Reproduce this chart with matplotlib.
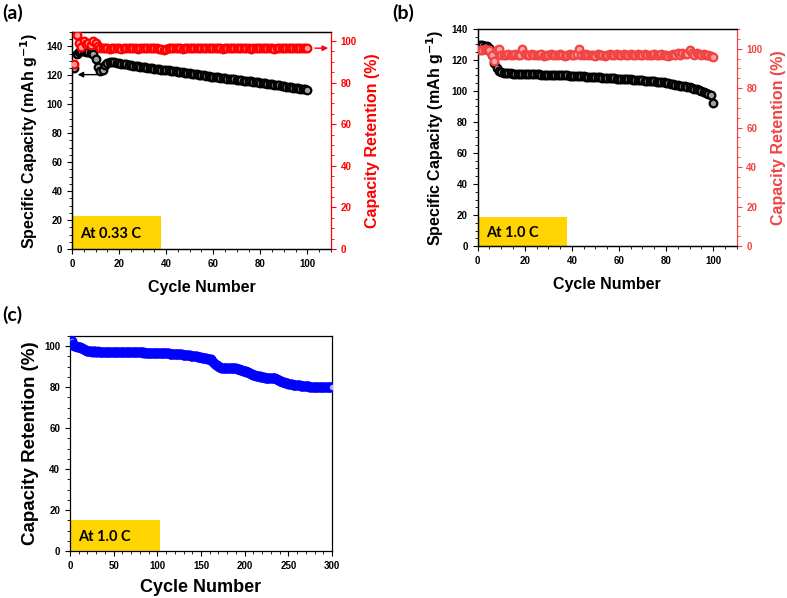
import numpy as np
import matplotlib
matplotlib.use('Agg')
import matplotlib.pyplot as plt
from matplotlib.patches import Rectangle

plt.rcParams['font.family'] = 'Liberation Sans'
plt.rcParams['font.weight'] = 'bold'
plt.rcParams['axes.labelweight'] = 'bold'

# ---------------- datos ----------------
# (a) 0.33 C
cap_a = [125, 135, 136, 136.5, 136.5, 136, 136, 135.5, 134.5, 131.5,
         126, 123, 124, 127, 128.5, 129, 129, 129, 128.5, 128.2,
         128, 127.7, 127.5, 127.3, 127, 126.8, 126.6, 126.3, 126.1, 125.9,
         125.6, 125.4, 125.2, 125, 124.7, 124.5, 124.3, 124, 123.8, 123.6,
         123.4, 123.2, 122.9, 122.7, 122.5, 122.2, 122, 121.8, 121.5, 121.3,
         121.1, 120.8, 120.6, 120.4, 120.1, 119.9, 119.7, 119.4, 119.2, 119,
         118.8, 118.6, 118.4, 118.2, 118.0, 117.8, 117.6, 117.4, 117.2, 117.0,
         116.8, 116.6, 116.4, 116.2, 116.0, 115.8, 115.6, 115.4, 115.2, 115.0,
         114.7, 114.5, 114.2, 114.0, 113.7, 113.5, 113.2, 113.0, 112.7, 112.5,
         112.2, 112.0, 111.7, 111.5, 111.2, 111.0, 110.8, 110.5, 110.3, 110.1]
ret_a = [89, 103, 99, 97, 100, 98.5, 99, 98, 100, 99, 97.5, 96.8,
         96.4, 96.6, 96.5, 96.3, 96.6, 96.5, 96.7, 96.4,
         96.2, 96.5, 96.6, 96.4, 96.5, 96.7, 96.5, 96.3, 96.6, 96.5,
         96.4, 96.6, 96.5, 96.5, 96.7, 96.4, 96.3, 96.0, 95.8, 96.3,
         96.5, 96.6, 96.4, 96.5, 96.6, 96.5, 96.3, 96.6, 96.5, 96.4,
         96.5, 96.6, 96.4, 96.5, 96.7, 96.5, 96.4, 96.6, 96.5, 96.5,
         96.4, 96.6, 96.5, 96.3, 96.5, 96.6, 96.5, 96.4, 96.6, 96.5,
         96.5, 96.4, 96.6, 96.5, 96.5, 96.3, 96.6, 96.5, 96.4, 96.6,
         96.5, 96.5, 96.4, 96.6, 96.5, 96.3, 96.5, 96.6, 96.5, 96.4,
         96.6, 96.5, 96.5, 96.4, 96.6, 96.5, 96.5, 96.4, 96.6, 96.5]

# (b) 1.0 C
cap_b = [129.5, 129.5, 129.3, 129, 127.5, 123, 118, 115, 113, 112,
         111.5, 111.4, 111.3, 111.3, 111.2, 111.2, 111.1, 111.1, 111, 111,
         110.9, 110.9, 110.8, 110.8, 110.7, 110.7, 110.6, 110.6, 110.5, 110.5,
         110.4, 110.4, 110.3, 110.3, 110.2, 110.1, 110.1, 110, 109.9, 109.8,
         109.7, 109.6, 109.5, 109.4, 109.4, 109.3, 109.2, 109.1, 109, 108.9,
         108.8, 108.7, 108.6, 108.5, 108.4, 108.3, 108.2, 108.1, 108, 107.9,
         107.8, 107.7, 107.6, 107.5, 107.4, 107.3, 107.2, 107.1, 106.9, 106.8,
         106.7, 106.6, 106.4, 106.3, 106.2, 106, 105.9, 105.7, 105.5, 105.3,
         105, 104.7, 104.4, 104.1, 103.8, 103.5, 103.2, 102.9, 102.6, 102.3,
         101.9, 101.5, 101, 100.5, 100, 99.5, 98.9, 98.3, 97.6, 92.5]
ret_b = [99.5, 99.5, 99.6, 99.4, 99.5, 97, 94, 99.5, 99.8, 97,
         97.0, 96.8, 97.1, 96.9, 97.0, 97.2, 96.8, 97.0, 100.0, 97.1,
         96.9, 97.0, 97.1, 96.7, 97.0, 96.9, 97.1, 96.3, 97.0, 96.9,
         97.1, 97.0, 96.8, 97.0, 97.1, 96.9, 96.4, 97.0, 97.1, 96.9,
         97.0, 97.2, 100.0, 97.0, 96.9, 97.1, 97.0, 96.8, 97.0, 96.3,
         97.1, 97.0, 96.9, 96.2, 97.0, 97.1, 96.9, 97.0, 97.1, 96.8,
         97.0, 97.1, 96.9, 97.0, 97.2, 96.9, 97.0, 97.1, 96.8, 97.0,
         97.1, 96.9, 97.0, 97.0, 97.1, 96.8, 97.0, 97.1, 96.9, 97.0,
         96.2, 97.0, 97.3, 96.8, 97.6, 97.0, 98.0, 97.2, 97.5, 99.5,
         97.6, 96.8, 97.8, 97.2, 96.6, 97.5, 96.8, 97.0, 96.4, 96.0]

# (c) 1.0 C, 300 ciclos
ret_c = [103.0, 102.4, 101.0, 100.5, 100.2, 100.0, 99.9, 99.8, 99.7, 99.6,
         99.5, 99.4, 99.2, 99.0, 98.8, 98.6, 98.3, 98.0, 97.8, 97.6,
         97.5, 97.5, 97.5, 97.5, 97.4, 97.5, 97.5, 97.4, 97.5, 97.4,
         97.4, 97.5, 97.4, 97.4, 97.4, 97.4, 97.3, 97.4, 97.4, 97.4,
         97.4, 97.3, 97.4, 97.3, 97.3, 97.4, 97.3, 97.3, 97.3, 97.3,
         97.3, 97.3, 97.3, 97.2, 97.3, 97.3, 97.2, 97.3, 97.2, 97.2,
         97.2, 97.2, 97.2, 97.2, 97.1, 97.2, 97.2, 97.1, 97.2, 97.1,
         97.1, 97.1, 97.1, 97.1, 97.1, 97.0, 97.1, 97.0, 97.0, 97.0,
         97.0, 97.0, 97.0, 96.9, 97.0, 96.9, 96.9, 96.9, 96.9, 96.9,
         96.9, 96.8, 96.9, 96.8, 96.8, 96.8, 96.8, 96.8, 96.7, 96.7,
         96.7, 96.7, 96.7, 96.6, 96.6, 96.6, 96.6, 96.5, 96.5, 96.5,
         96.5, 96.5, 96.5, 96.4, 96.4, 96.4, 96.4, 96.3, 96.3, 96.3,
         96.2, 96.2, 96.2, 96.1, 96.1, 96.1, 96.0, 96.0, 95.9, 95.9,
         95.8, 95.8, 95.7, 95.7, 95.6, 95.6, 95.5, 95.4, 95.4, 95.3,
         95.2, 95.2, 95.1, 95.0, 95.0, 94.9, 94.8, 94.8, 94.7, 94.6,
         94.5, 94.4, 94.4, 94.3, 94.2, 94.1, 94.0, 94.0, 93.9, 93.8,
         93.6, 93.4, 92.8, 92.3, 91.8, 91.4, 91.0, 90.8, 90.5, 90.2,
         89.9, 89.8, 89.6, 89.5, 89.4, 89.4, 89.4, 89.4, 89.4, 89.4,
         89.4, 89.4, 89.4, 89.4, 89.4, 89.3, 89.3, 89.3, 89.2, 89.2,
         89.1, 89.0, 88.9, 88.7, 88.5, 88.3, 88.2, 88.0, 87.9, 87.8,
         87.7, 87.6, 87.4, 87.2, 87.0, 86.8, 86.6, 86.4, 86.2, 86.0,
         85.9, 85.8, 85.7, 85.6, 85.5, 85.4, 85.3, 85.2, 85.1, 85.0,
         84.9, 84.8, 84.7, 84.7, 84.7, 84.6, 84.6, 84.6, 84.6, 84.6,
         84.6, 84.5, 84.5, 84.4, 84.3, 84.1, 83.9, 83.6, 83.4, 83.2,
         83.0, 82.8, 82.7, 82.5, 82.4, 82.2, 82.1, 82.0, 81.9, 81.8,
         81.7, 81.6, 81.5, 81.4, 81.3, 81.2, 81.2, 81.1, 81.1, 81.0,
         81.0, 80.9, 80.9, 80.8, 80.8, 80.7, 80.7, 80.6, 80.6, 80.5,
         80.5, 80.4, 80.4, 80.3, 80.3, 80.2, 80.2, 80.1, 80.1, 80.0,
         80.0, 80.0, 79.9, 79.9, 79.9, 79.9, 79.9, 79.9, 79.9, 79.9,
         79.9, 79.9, 79.9, 80.0, 80.0, 80.0, 80.0, 80.0, 80.1, 80.2]

cyc_ab = np.arange(1, len(cap_a) + 1)
cyc_c = np.arange(1, len(ret_c) + 1)

rate_labels = ['At 0.33 C', 'At 1.0 C', 'At 1.0 C']
YELLOW = '#FFD400'
RED_A = '#FF0000'
RED_B = '#F04444'
BLUE = '#0000FF'
TICK_FS = 7
LABEL_FS = 11.5


def estilo(ax):
    ax.tick_params(direction='out', labelsize=TICK_FS, width=0.8, length=3.5)
    ax.tick_params(which='minor', direction='out', width=0.6, length=2)
    ax.minorticks_on()
    for s in ax.spines.values():
        s.set_linewidth(0.9)


def caja(ax, x1, y1, texto):
    ax.add_patch(Rectangle((0, 0), x1, y1, facecolor=YELLOW, edgecolor='none', zorder=1))
    ax.text(x1 * 0.09, y1 * 0.45, texto, fontsize=10.5, fontweight='bold',
            family='Lato', va='center', ha='left', zorder=2)


def panel_doble(rect, cap, ret, red, ylim_l, ylim_r, yticks_l, texto, ybox):
    ax = fig.add_axes(rect)
    ax.plot(cyc_ab, cap, 'o', ms=5.5, mfc='#a0a0a0', mec='black', mew=1.6, zorder=3)
    ax.set_xlim(0, 110)
    ax.set_ylim(*ylim_l)
    ax.set_xticks([0, 20, 40, 60, 80, 100])
    ax.set_yticks(yticks_l)
    ax.set_xlabel('Cycle Number', fontsize=LABEL_FS, labelpad=8)
    ax.set_ylabel(r'Specific Capacity (mAh g$^{\mathbf{-1}}$)', fontsize=LABEL_FS, labelpad=4)
    estilo(ax)
    ax.spines['right'].set_visible(False)
    caja(ax, 38, ybox, texto)

    ax2 = ax.twinx()
    ax2.plot(cyc_ab, ret, 'o', ms=5.5, mfc='#ffa0a0', mec=red, mew=1.6, zorder=3)
    ax2.set_ylim(*ylim_r)
    ax2.set_yticks([0, 20, 40, 60, 80, 100])
    ax2.set_ylabel('Capacity Retention (%)', fontsize=LABEL_FS, color=red, labelpad=6)
    estilo(ax2)
    ax2.spines['right'].set_color(red)
    ax2.tick_params(axis='y', which='both', colors=red)
    return ax, ax2


fig = plt.figure(figsize=(7.87, 5.98), dpi=100)

# (a)
ax_a, ax_a2 = panel_doble([0.0915, 0.5836, 0.329, 0.363], cap_a, ret_a, RED_A,
                          (0, 150), (0, 104.3), [0, 20, 40, 60, 80, 100, 120, 140],
                          rate_labels[0], 22.7)
ax_a.annotate('', xy=(1.2, 120.5), xytext=(12, 120.5),
              arrowprops=dict(arrowstyle='-|>', color='black', lw=1, mutation_scale=8))
ax_a2.annotate('', xy=(110, 96.5), xytext=(102, 96.5),
               arrowprops=dict(arrowstyle='-|>', color=RED_A, lw=1, mutation_scale=8))

# (b)
panel_doble([0.607, 0.5886, 0.329, 0.363], cap_b, ret_b, RED_B,
            (0, 140), (0, 110), [0, 20, 40, 60, 80, 100, 120, 140],
            rate_labels[1], 18.9)

# (c)
ax_c = fig.add_axes([0.0889, 0.0786, 0.333, 0.3595])
ax_c.plot(cyc_c, ret_c, 'o', ms=5.5, mfc='#b0b0ff', mec=BLUE, mew=1.6, zorder=3)
ax_c.set_xlim(0, 300)
ax_c.set_ylim(0, 105)
ax_c.set_xticks([0, 50, 100, 150, 200, 250, 300])
ax_c.set_yticks([0, 20, 40, 60, 80, 100])
ax_c.set_xlabel('Cycle Number', fontsize=13, labelpad=6)
ax_c.set_ylabel('Capacity Retention (%)', fontsize=13.5, labelpad=4)
estilo(ax_c)
caja(ax_c, 103, 15, rate_labels[2])

# etiquetas de panel
fig.text(0.003, 0.978, '(a)', fontsize=14, fontweight='bold', family='Lato', va='center')
fig.text(0.498, 0.978, '(b)', fontsize=14, fontweight='bold', family='Lato', va='center')
fig.text(0.003, 0.473, '(c)', fontsize=14, fontweight='bold', family='Lato', va='center')

plt.savefig('out.png', dpi=100)
